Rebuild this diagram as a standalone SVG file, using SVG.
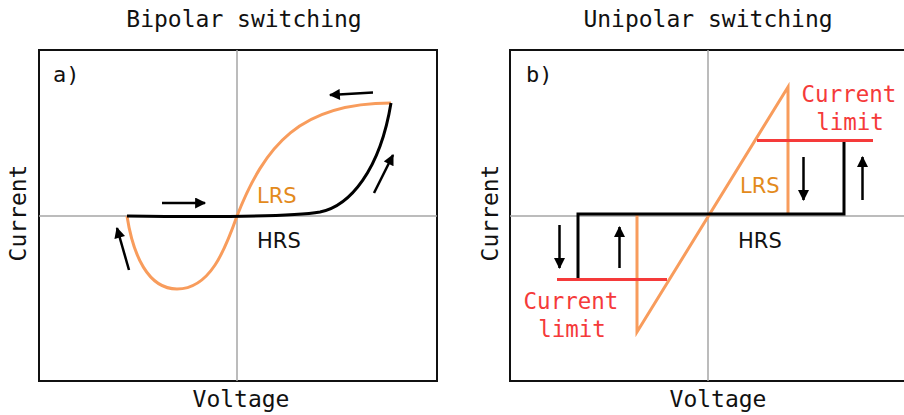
<svg xmlns="http://www.w3.org/2000/svg" width="904" height="415" viewBox="0 0 904 415">
<style>
.title{font-family:"DejaVu Sans Mono",monospace;font-size:23px;fill:#111;text-anchor:middle}
.tag{font-family:"DejaVu Sans Mono",monospace;font-size:22px;fill:#111}
.lbl{font-family:"DejaVu Sans",sans-serif;font-size:21px;fill:#111}
.lrs{font-family:"DejaVu Sans",sans-serif;font-size:21px;fill:#e38a1c}
.lim{font-family:"DejaVu Sans Mono",monospace;font-size:22.5px;fill:#f53a3a;text-anchor:middle}
.box{fill:#fff;stroke:#111;stroke-width:2}
.axis{stroke:#a6a6a6;stroke-width:1.5;fill:none}
.hrs{stroke:#000;stroke-width:3;fill:none}
.orange{stroke:#f89c5c;stroke-width:3;fill:none}
.red{stroke:#f53a3a;stroke-width:3;fill:none}
.arr{stroke:#000;stroke-width:2.5;fill:none;marker-end:url(#ah)}
</style>
<defs>
<marker id="ah" viewBox="0 0 10 10" refX="9" refY="5" markerWidth="5" markerHeight="4.4" orient="auto" markerUnits="strokeWidth">
<path d="M0,0 L10,5 L0,10 z" fill="#000"/>
</marker>
</defs>
<rect width="904" height="415" fill="#fff"/>
<g id="panel-a">
<text class="title" x="244" y="27">Bipolar switching</text>
<rect class="box" x="39" y="50" width="398" height="331"/>
<line class="axis" x1="237" y1="50" x2="237" y2="381"/>
<line class="axis" x1="39" y1="216" x2="437" y2="216"/>
<text class="tag" x="53" y="82">a)</text>
<text class="title" x="241" y="407">Voltage</text>
<text class="title" transform="translate(26,213) rotate(-90)" x="0" y="0">Current</text>
</g>
<g id="panel-b">
<text class="title" x="708" y="27">Unipolar switching</text>
<rect class="box" x="510" y="50" width="398" height="331"/>
<line class="axis" x1="708" y1="50" x2="708" y2="381"/>
<line class="axis" x1="510" y1="216" x2="908" y2="216"/>
<text class="tag" x="526" y="82">b)</text>
<text class="title" x="718" y="407">Voltage</text>
<text class="title" transform="translate(498,213) rotate(-90)" x="0" y="0">Current</text>
</g>
<g id="curves">
<path id="bipolar-lrs" class="orange" d="M391,103 C300,103 265,145 237,216 C225,250 210,289 177,289 C148,289 133,255 127,216"/>
<path id="bipolar-hrs" class="hrs" d="M127,216 C200,217 290,217 320,212 C350,206 380,170 391,103"/>
<path id="unipolar-lrs" class="orange" d="M637,213 L637,332 L788,87 L788,214"/>
<path id="unipolar-hrs" class="hrs" d="M578,280 L578,214 L844,214 L844,140"/>
<line class="red" x1="557" y1="279.5" x2="667" y2="279.5"/>
<line class="red" x1="757" y1="140.5" x2="873" y2="140.5"/>
</g>
<g id="arrows">
<line class="arr" x1="162" y1="203" x2="205" y2="203"/>
<line class="arr" x1="373" y1="92.5" x2="330" y2="95"/>
<line class="arr" x1="374" y1="193" x2="393" y2="155"/>
<line class="arr" x1="129" y1="270" x2="117" y2="228"/>
<line class="arr" x1="559.5" y1="225" x2="559.5" y2="268"/>
<line class="arr" x1="619.5" y1="268" x2="619.5" y2="227"/>
<line class="arr" x1="803.5" y1="157" x2="803.5" y2="200"/>
<line class="arr" x1="862.5" y1="200" x2="862.5" y2="157"/>
</g>
<g id="labels">
<text class="lrs" x="257" y="203">LRS</text>
<text class="lbl" x="257" y="248">HRS</text>
<text class="lrs" x="740" y="193">LRS</text>
<text class="lbl" x="738" y="248">HRS</text>
<text class="lim" x="849" y="102">Current</text>
<text class="lim" x="850" y="130">limit</text>
<text class="lim" x="571" y="309">Current</text>
<text class="lim" x="572" y="337">limit</text>
</g>
</svg>
